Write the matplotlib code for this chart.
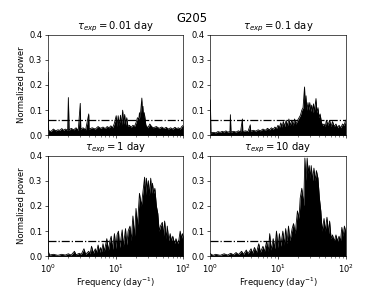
import numpy as np
import matplotlib
matplotlib.use('Agg')
import matplotlib.pyplot as plt

# Values (frequency in 1/day, normalized power)
freq_a = [1.0, 1.02, 1.1, 1.2, 1.3, 1.4, 1.5, 1.6, 1.7, 1.8, 1.95, 2.0, 2.05, 2.2, 2.4, 2.6, 2.8,
          3.0, 3.05, 3.3, 3.6, 4.0, 4.05, 4.5, 5.0, 5.5, 6.0, 6.5, 7.0, 7.5, 8.0, 8.5, 9.0, 9.5,
          10.2, 10.5, 10.9, 11.3, 11.8, 12.2, 12.7, 13.1, 13.6, 14.0, 14.6, 15.2, 16, 17, 18, 19,
          20, 21, 22, 22.5, 23, 24.4, 24.9, 25.4, 25.9, 26.5, 27.4, 28, 30, 32, 34, 36, 40, 44,
          48, 52, 56, 60, 65, 70, 75, 80, 85, 90, 95, 100]
power_a = [0.25, 0.02, 0.015, 0.025, 0.018, 0.022, 0.02, 0.027, 0.02, 0.025, 0.02, 0.15, 0.02, 0.028,
           0.022, 0.03, 0.02, 0.127, 0.025, 0.03, 0.022, 0.085, 0.025, 0.03, 0.025, 0.035, 0.028,
           0.033, 0.027, 0.035, 0.03, 0.038, 0.03, 0.045, 0.078, 0.035, 0.078, 0.04, 0.08, 0.04, 0.1,
           0.045, 0.083, 0.04, 0.07, 0.035, 0.04, 0.032, 0.04, 0.035, 0.05, 0.07, 0.065, 0.09, 0.07,
           0.148, 0.075, 0.115, 0.07, 0.09, 0.06, 0.04, 0.03, 0.045, 0.035, 0.03, 0.035, 0.028,
           0.033, 0.027, 0.032, 0.025, 0.03, 0.025, 0.032, 0.027, 0.03, 0.025, 0.035, 0.04]

freq_b = [1.0, 1.02, 1.1, 1.2, 1.3, 1.4, 1.5, 1.6, 1.7, 1.8, 1.95, 1.98, 2.02, 2.2, 2.4, 2.6, 2.8,
          2.98, 3.02, 3.3, 3.6, 3.9, 3.95, 4.3, 4.7, 5.1, 5.5, 6.0, 6.5, 7.0, 7.5, 8.0, 8.5, 9.0,
          9.5, 10, 10.5, 11, 11.5, 12, 12.6, 13.2, 13.8, 14.5, 15.2, 16, 16.8, 17.6, 18.5, 19.5,
          20.5, 21.5, 22.5, 23.5, 24.7, 25.4, 26, 26.8, 27.8, 28.6, 29.5, 30.5, 31.5, 32.5, 33.5,
          34.5, 36.5, 37.5, 39, 40.5, 42, 44, 46, 48, 50, 52, 55, 58, 61, 64, 68, 72, 76, 80, 85,
          90, 95, 100]
power_b = [0.14, 0.01, 0.012, 0.01, 0.015, 0.012, 0.016, 0.013, 0.018, 0.013, 0.015, 0.082, 0.013,
           0.016, 0.013, 0.018, 0.014, 0.065, 0.015, 0.018, 0.015, 0.042, 0.017, 0.02, 0.017, 0.022,
           0.018, 0.025, 0.02, 0.028, 0.022, 0.03, 0.024, 0.033, 0.027, 0.04, 0.03, 0.05, 0.033,
           0.055, 0.035, 0.06, 0.037, 0.065, 0.04, 0.06, 0.04, 0.065, 0.045, 0.06, 0.07, 0.08, 0.1,
           0.11, 0.192, 0.1, 0.157, 0.1, 0.13, 0.1, 0.13, 0.095, 0.12, 0.09, 0.125, 0.095, 0.146,
           0.09, 0.11, 0.07, 0.085, 0.05, 0.04, 0.045, 0.035, 0.06, 0.04, 0.06, 0.035, 0.055, 0.035,
           0.045, 0.03, 0.04, 0.03, 0.045, 0.04, 0.06]

freq_c = [1.0, 1.01, 1.05, 1.2, 1.4, 1.6, 1.8, 2.0, 2.2, 2.46, 2.6, 2.9, 3.1, 3.4, 3.6, 4.0, 4.2,
          4.4, 4.7, 5.0, 5.2, 5.5, 5.8, 6.0, 6.2, 6.5, 6.8, 7.4, 7.8, 8.2, 8.6, 9.0, 9.6, 10.1,
          10.5, 11, 11.5, 12.5, 13, 14, 14.6, 15.3, 16.3, 17, 18, 19, 20, 21, 22.5, 24, 26.8, 27.6,
          28.5, 29.5, 30.5, 31.5, 33, 34, 35, 36.5, 38, 40, 42, 44, 46, 49, 51, 53, 56, 58, 61, 64,
          67, 70, 74, 78, 82, 86, 90, 94, 97, 100]
power_c = [0.45, 0.02, 0.005, 0.008, 0.004, 0.008, 0.005, 0.01, 0.005, 0.02, 0.006, 0.012, 0.008,
           0.03, 0.008, 0.02, 0.01, 0.04, 0.012, 0.03, 0.014, 0.045, 0.016, 0.035, 0.018, 0.05, 0.02,
           0.07, 0.022, 0.06, 0.08, 0.028, 0.09, 0.03, 0.085, 0.1, 0.035, 0.105, 0.04, 0.11, 0.045,
           0.1, 0.12, 0.06, 0.16, 0.08, 0.19, 0.12, 0.25, 0.2, 0.314, 0.24, 0.31, 0.26, 0.30, 0.24,
           0.31, 0.25, 0.29, 0.25, 0.27, 0.2, 0.17, 0.1, 0.12, 0.135, 0.08, 0.14, 0.07, 0.12, 0.06,
           0.09, 0.06, 0.08, 0.05, 0.07, 0.05, 0.065, 0.1, 0.07, 0.09, 0.08]

freq_d = [1.0, 1.1, 1.2, 1.4, 1.6, 1.8, 2.0, 2.2, 2.4, 2.6, 2.9, 3.1, 3.4, 3.6, 4.0, 4.2, 4.5,
          4.8, 5.2, 5.5, 6.0, 6.3, 6.8, 7.2, 7.55, 7.9, 8.5, 9.0, 9.5, 10, 10.5, 11, 11.8, 12.4,
          13, 13.6, 14.3, 15, 16.2, 17, 18, 19.4, 20.5, 21.3, 22.5, 24, 25, 26, 27, 28, 29, 30, 31,
          32.5, 34, 35.5, 37, 39, 41, 43, 45, 48, 50, 53, 56, 58, 61, 64, 68, 72, 76, 80, 84, 88,
          92, 96, 100]
power_d = [0.01, 0.004, 0.008, 0.004, 0.01, 0.005, 0.012, 0.006, 0.015, 0.007, 0.02, 0.008, 0.025,
           0.01, 0.03, 0.012, 0.035, 0.014, 0.05, 0.016, 0.04, 0.018, 0.06, 0.02, 0.09, 0.025, 0.07,
           0.03, 0.1, 0.035, 0.09, 0.04, 0.1, 0.045, 0.11, 0.05, 0.12, 0.06, 0.11, 0.13, 0.09, 0.18,
           0.15, 0.23, 0.27, 0.2, 0.39, 0.3, 0.39, 0.33, 0.36, 0.31, 0.36, 0.3, 0.35, 0.3, 0.34,
           0.31, 0.23, 0.18, 0.1, 0.15, 0.1, 0.155, 0.09, 0.14, 0.07, 0.085, 0.06, 0.085, 0.06, 0.08,
           0.06, 0.115, 0.08, 0.12, 0.1]

taus = ['0.01', '0.1', '1', '10']
threshold = 0.06

freqs = [freq_a, freq_b, freq_c, freq_d]
powers = [power_a, power_b, power_c, power_d]

fig, axes = plt.subplots(2, 2, figsize=(6.4, 4.8), sharex=True)
fig.suptitle('G205', fontsize=14, y=0.96)

for i, ax in enumerate(axes.flat):
    f = np.array(freqs[i])
    p = np.array(powers[i])
    ax.axhline(threshold, color='k', ls='-.', lw=1.5, zorder=1)
    ax.fill_between(f, p, 0, color='k', lw=0, zorder=2)
    ax.plot(f, p, color='k', lw=1.0, zorder=3)
    ax.set_xscale('log')
    ax.set_xlim(1, 100)
    ax.set_ylim(0, 0.4)
    ax.set_yticks([0.0, 0.1, 0.2, 0.3, 0.4])
    ax.set_title(r'$\tau_{exp} = $' + taus[i] + ' day')
    if i % 2 == 0:
        ax.set_ylabel('Normalized power')
    if i >= 2:
        ax.set_xlabel(r'Frequency (day$^{-1}$)', labelpad=1)

plt.savefig('out.png', dpi=60)
